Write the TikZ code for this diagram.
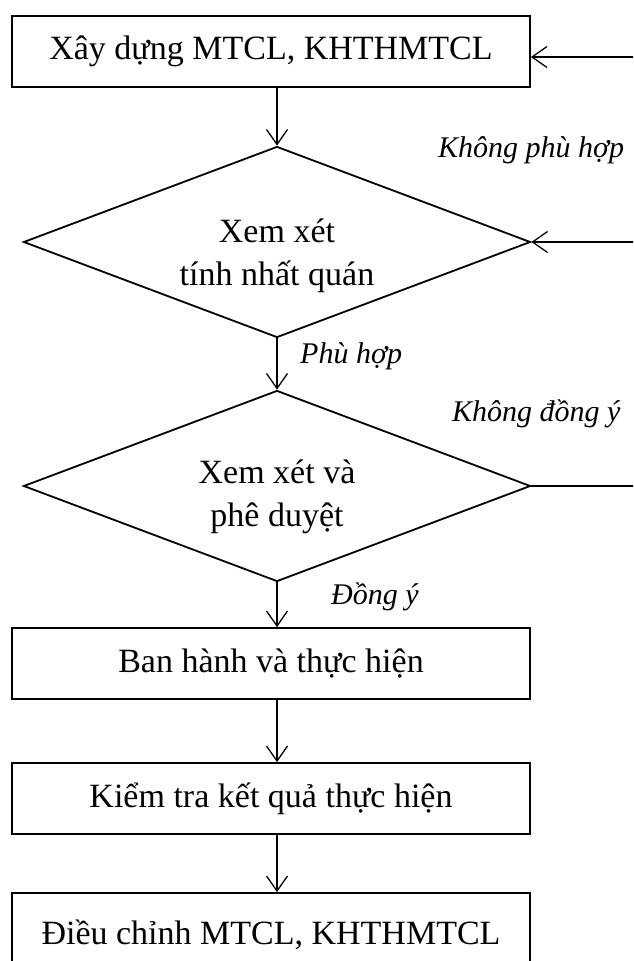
\documentclass[tikz,border=0pt]{standalone}
\usepackage{fontspec}
\setmainfont{Liberation Serif}
\usetikzlibrary{shapes.geometric,arrows.meta}
\begin{document}
\begin{tikzpicture}[x=1pt,y=-1pt,
 boxnode/.style={draw,line width=1.8pt,minimum width=518pt,minimum height=71pt,inner sep=0pt,font=\fontsize{34}{40}\selectfont},
 decision/.style={draw,diamond,line width=1.8pt,minimum width=507pt,minimum height=191pt,aspect=2.65,inner sep=0pt},
 dtext/.style={align=center,inner sep=0pt,font=\fontsize{34}{43}\selectfont},
 lbl/.style={font=\fontsize{30}{36}\selectfont\itshape,inner sep=0pt},
 conn/.style={line width=1.3pt},
 flow/.style={conn,-{Straight Barb[length=15pt,width=21pt,line width=1.3pt]}}]
\useasboundingbox (0,0) rectangle (633,961);
\clip (0,0) rectangle (633,961);
\fill[white] (0,0) rectangle (633,961);
\node[boxnode] (b1) at (271,51.5) {Xây dựng MTCL, KHTHMTCL};
\node[decision] (d1) at (277,242) {};
\node[dtext] (d1t) at (277,256) {Xem xét\\tính nhất quán};
\node[decision] (d2) at (277,486) {};
\node[dtext] (d2t) at (277,497) {Xem xét và\\phê duyệt};
\node[boxnode] (b3) at (271,663.5) {Ban hành và thực hiện};
\node[boxnode] (b4) at (271,798.5) {Kiểm tra kết quả thực hiện};
\node[boxnode,minimum height=84pt] (b5) at (271,935) {Điều chỉnh MTCL, KHTHMTCL};
\coordinate (e1) at (640,57);
\coordinate (e2) at (640,242);
\coordinate (e3) at (640,486);
\draw[flow] (b1.south -| d1.north) -- (d1.north);
\draw[flow] (d1.south) -- (d2.north);
\draw[flow] (d2.south) -- (d2.south |- b3.north);
\draw[flow] (b3.south -| d2.south) -- (b4.north -| d2.south);
\draw[flow] (b4.south -| d2.south) -- (b5.north -| d2.south);
\draw[flow] (e1) -- (e1 -| b1.east);
\draw[flow] (e2) -- (d1.east);
\draw[conn] (d2.east) -- (e3);
\node[lbl,anchor=west] (l1) at (438,150) {Không phù hợp};
\node[lbl,anchor=west] (l2) at (300,356) {Phù hợp};
\node[lbl,anchor=west] (l3) at (452,414) {Không đồng ý};
\node[lbl,anchor=west] (l4) at (331,597) {Đồng ý};
\end{tikzpicture}
\end{document}
